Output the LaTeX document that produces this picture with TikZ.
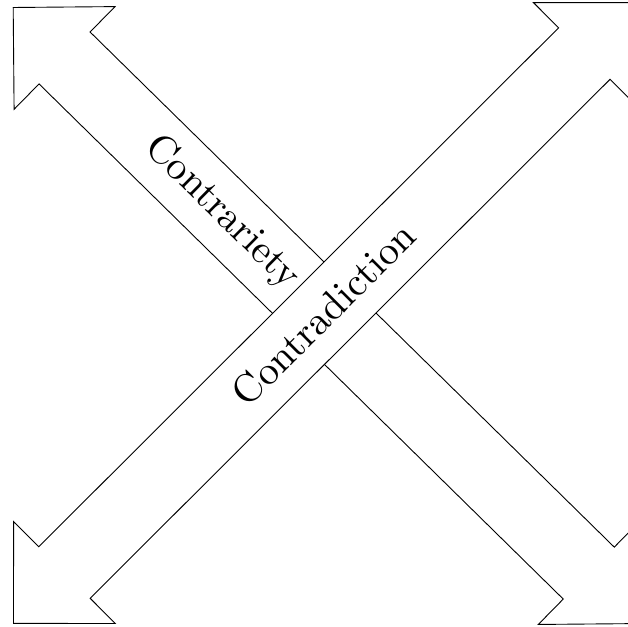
\documentclass[tikz,border=0pt]{standalone}
\usepackage{fontspec}
\newfontfamily\lmten{lmroman10-regular}[Extension=.otf]
\tikzset{
  arrowshape/.style={draw=black, fill=white, line width=0.9pt, line join=miter},
  lbl/.style={font=\lmten\fontsize{40}{48}\selectfont, inner sep=0pt}
}
\begin{document}
\begin{tikzpicture}[x=1pt,y=1pt]
\useasboundingbox (0,0) rectangle (628,626);
\clip (0,0) rectangle (628,626);
% Contrariety arrow (top-left to bottom-right)
\begin{scope}[shift={(13.2,618.5)}, rotate=-44.5]
  \draw[arrowshape] (0,0) -- (72,72) -- (72,36.4) -- (807,36.4) -- (807,72)
    -- (879,0) -- (807,-72) -- (807,-36.4) -- (72,-36.4) -- (72,-72) -- cycle;
  \node[lbl, rotate=-44.5] (contrariety) at (293,0) {Contrariety};
\end{scope}
% Contradiction arrow (bottom-left to top-right)
\begin{scope}[shift={(13.5,2.6)}, rotate=44.95]
  \draw[arrowshape] (0,0) -- (72,72) -- (72,36.4) -- (806.6,36.4) -- (806.6,72)
    -- (878.6,0) -- (806.6,-72) -- (806.6,-36.4) -- (72,-36.4) -- (72,-72) -- cycle;
  \node[lbl, rotate=44.95] (contradiction) at (438,0) {Contradiction};
\end{scope}
\end{tikzpicture}
\end{document}
